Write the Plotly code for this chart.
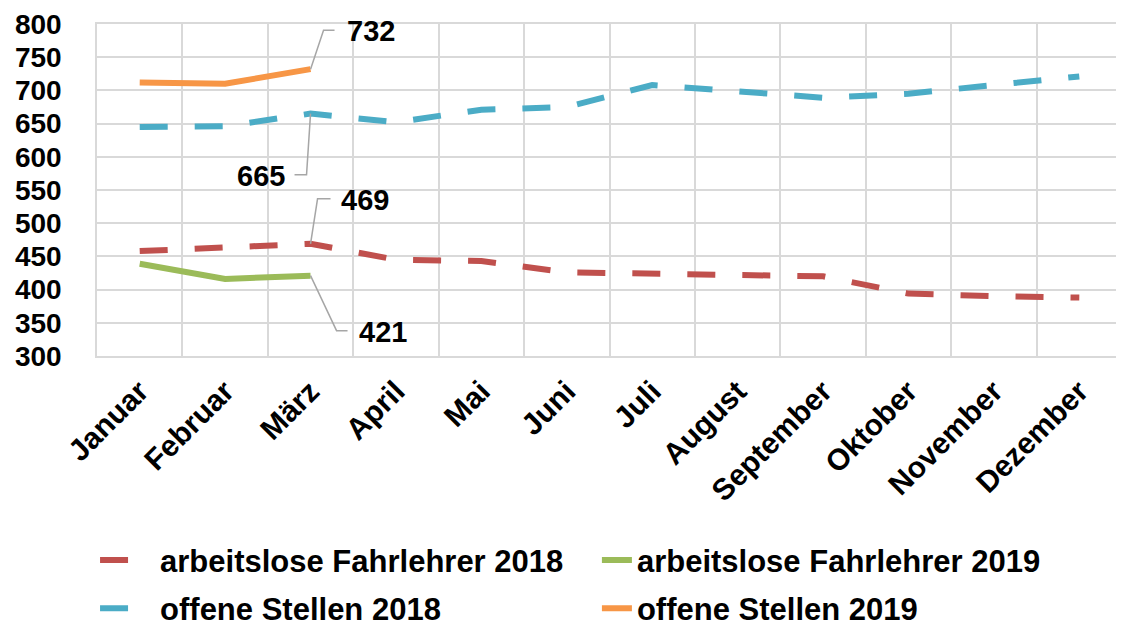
import plotly.graph_objects as go

months = ["Januar", "Februar", "März", "April", "Mai", "Juni", "Juli",
          "August", "September", "Oktober", "November", "Dezember"]
arbeitslose_2018 = [458, 463, 469, 445, 443, 426, 425, 422, 420, 394, 390, 388]
arbeitslose_2019 = [439, 416, 421]
offene_2018 = [645, 646, 665, 652, 671, 675, 708, 699, 689, 695, 709, 721]
offene_2019 = [712, 710, 732]
y_ticks = list(range(300, 801, 50))

RED = "#C0504D"
GREEN = "#9BBB59"
BLUE = "#4BACC6"
ORANGE = "#F79646"
FONT = "Liberation Sans, Arial, sans-serif"
DASH = "28px,27px"

fig = go.Figure()
fig.add_trace(go.Scatter(x=months, y=arbeitslose_2018, mode="lines",
                         name="arbeitslose Fahrlehrer 2018", legend="legend",
                         legendgroup="a18",
                         line=dict(color=RED, width=6, dash=DASH)))
fig.add_trace(go.Scatter(x=months[:3], y=arbeitslose_2019, mode="lines",
                         name="arbeitslose Fahrlehrer 2019", legend="legend2",
                         legendgroup="a19",
                         line=dict(color=GREEN, width=6)))
fig.add_trace(go.Scatter(x=months, y=offene_2018, mode="lines",
                         name="offene Stellen 2018", legend="legend",
                         legendgroup="o18",
                         line=dict(color=BLUE, width=6, dash=DASH)))
fig.add_trace(go.Scatter(x=months[:3], y=offene_2019, mode="lines",
                         name="offene Stellen 2019", legend="legend2",
                         legendgroup="o19",
                         line=dict(color=ORANGE, width=6)))

# data labels with elbow leader lines (pixel offsets relative to the point)
labels = [
    (months[2], offene_2019[2], "M0,0 L13,39 L24,39", 34, 38, "left"),
    (months[2], offene_2018[2], "M0,0 L-4,-61 L-16,-61", -24, -62, "right"),
    (months[2], arbeitslose_2018[2], "M0,0 L7,45 L20,45", 28, 44, "left"),
    (months[2], arbeitslose_2019[2], "M0,0 L26,-55 L37,-55", 46, -56, "left"),
]
for xv, yv, path, xs, ys, anchor in labels:
    fig.add_shape(type="path", xref="x", yref="y", xsizemode="pixel", ysizemode="pixel",
                  xanchor=xv, yanchor=yv, path=path,
                  line=dict(color="#A6A6A6", width=1.5))
    fig.add_annotation(x=xv, y=yv, text=str(yv), showarrow=False,
                       xanchor=anchor, yanchor="middle", xshift=xs, yshift=ys,
                       font=dict(size=29, color="black", family=FONT, weight="bold"))

legend_font = dict(size=31, family=FONT, weight="bold", color="black")
fig.update_layout(
    width=1116, height=618,
    margin=dict(l=89, r=2, t=16, b=270, autoexpand=False),
    paper_bgcolor="white", plot_bgcolor="white",
    font=dict(family=FONT, size=28, color="black", weight="bold"),
    showlegend=True,
    legend=dict(orientation="v", xref="container", yref="container",
                x=0.078, y=0.15, xanchor="left", yanchor="top",
                font=legend_font, tracegroupgap=5, itemwidth=55,
                bgcolor="rgba(0,0,0,0)"),
    legend2=dict(orientation="v", xref="container", yref="container",
                 x=0.5277, y=0.15, xanchor="left", yanchor="top",
                 font=legend_font, tracegroupgap=5, itemwidth=30,
                 bgcolor="rgba(0,0,0,0)"),
    xaxis=dict(type="category", tickson="boundaries", range=[-0.5, 11.5],
               showgrid=True, gridcolor="#D9D9D9", gridwidth=1.5, tickangle=-45,
               ticks="", ticklabelstandoff=4,
               showline=True, linecolor="#D9D9D9", linewidth=1.5, mirror=True,
               tickfont=dict(size=30, family=FONT, weight="bold")),
    yaxis=dict(range=[300, 800], tickvals=y_ticks, showgrid=True,
               gridcolor="#D9D9D9", gridwidth=1.5, ticks="",
               ticklabelstandoff=28, zeroline=False,
               showline=True, linecolor="#D9D9D9", linewidth=1.5, mirror=True,
               tickfont=dict(size=28, family=FONT, weight="bold")),
)

fig.write_html("out.html")
